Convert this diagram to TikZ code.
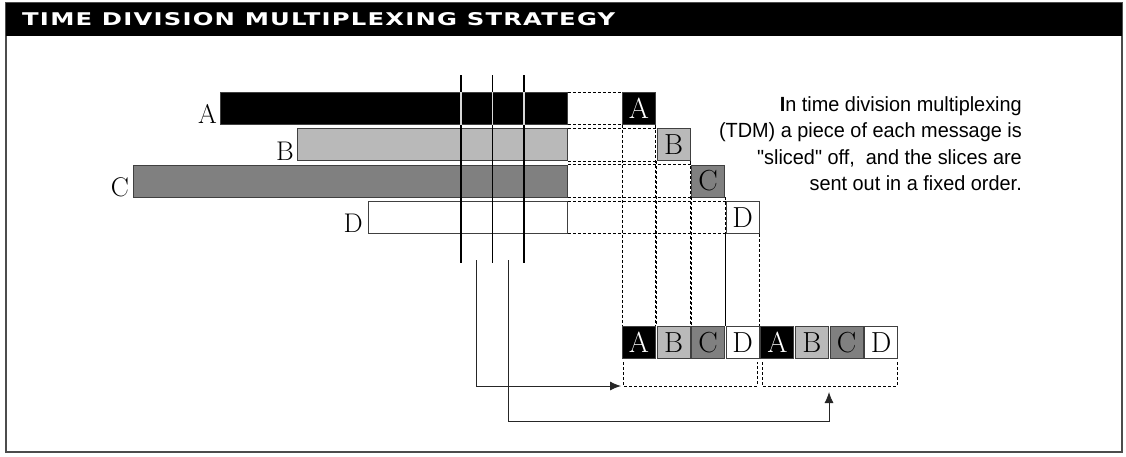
\documentclass[tikz,border=0pt]{standalone}
\usepackage{fontspec}
\usetikzlibrary{arrows.meta}
\newfontfamily\titlefont[LetterSpace=5]{DejaVu Sans}
\newfontfamily\notefont[FakeStretch=0.97]{Liberation Sans}
\definecolor{gB}{gray}{0.725}
\definecolor{gC}{gray}{0.5}
\definecolor{edge}{gray}{0.25}
\begin{document}
\begin{tikzpicture}[x=1pt,y=-1pt,
  bar/.style={draw=edge, line width=0.8pt, anchor=north west, inner sep=0pt, minimum height=32pt},
  sq/.style={draw=edge, line width=0.8pt, anchor=north west, inner sep=0pt, minimum width=33pt, minimum height=32pt, font=\fontsize{29}{29}\selectfont},
  lab/.style={anchor=base east, inner sep=0pt, font=\fontsize{27}{27}\selectfont},
  dsh/.style={dash pattern=on 3pt off 2pt, line width=0.8pt},
  vline/.style={line width=1.1pt},
  conn/.style={line width=0.9pt, draw=black!85, -{Latex[length=11pt,width=9pt]}},
  note/.style={anchor=base east, inner sep=0pt, font=\notefont\fontsize{20.5}{20.5}\selectfont}
]
\useasboundingbox (0,0) rectangle (1126,456);
% frame and title bar
\draw[line width=1.5pt, draw=black!70] (6,3) rectangle (1122,452);
\fill[black] (6,3) rectangle (1122,36);
\node[anchor=west, inner sep=0pt, text=white] (title) at (22,19.5)
  {\resizebox{593pt}{13pt}{\titlefont\bfseries TIME DIVISION MULTIPLEXING STRATEGY}};

% message bars
\node[bar, fill=black, minimum width=347pt] (barA) at (220,92) {};
\node[bar, fill=gB, minimum width=270pt] (barB) at (297,128.3) {};
\node[bar, fill=gC, minimum width=434pt] (barC) at (133,164.6) {};
\node[bar, fill=white, minimum width=199pt] (barD) at (368,200.9) {};

\node[lab] (labA) at ([xshift=-3pt,yshift=1pt]barA.south west) {A};
\node[lab] (labB) at ([xshift=-3pt,yshift=1pt]barB.south west) {B};
\node[lab] (labC) at ([xshift=-4pt,yshift=1pt]barC.south west) {C};
\node[lab] (labD) at ([xshift=-5pt,yshift=1pt]barD.south west) {D};

% slicing lines
\coordinate (v1t) at (461,75); \coordinate (v1b) at (461,263);
\coordinate (v2t) at (492.5,75); \coordinate (v2b) at (492.5,263);
\coordinate (v3t) at (524,75); \coordinate (v3b) at (524,263);
\draw[vline] (v1t) -- (v1b);
\draw[vline] (v2t) -- (v2b);
\draw[vline] (v3t) -- (v3b);
\draw[vline, white!85!black] (v1t |- barA.north) -- (v1t |- barA.south);
\draw[vline, white!85!black] (v2t |- barA.north) -- (v2t |- barA.south);
\draw[vline, white!85!black] (v3t |- barA.north) -- (v3t |- barA.south);

% slices in the diagonal
\node[sq, fill=black, text=white] (dA) at (622,92) {A};
\node[sq, fill=gB] (dB) at (656.6,128.3) {B};
\node[sq, fill=gC] (dC) at (691.2,164.6) {C};
\node[sq, fill=white] (dD) at (725.8,200.9) {D};

% output row
\node[sq, fill=black, text=white] (r1) at (622,326) {A};
\node[sq, fill=gB] (r2) at (656.6,326) {B};
\node[sq, fill=gC] (r3) at (691.2,326) {C};
\node[sq, fill=white] (r4) at (725.8,326) {D};
\node[sq, fill=black, text=white] (r5) at (760.4,326) {A};
\node[sq, fill=gB] (r6) at (795,326) {B};
\node[sq, fill=gC] (r7) at (829.6,326) {C};
\node[sq, fill=white] (r8) at (864.2,326) {D};

% dashed guides
\draw[dsh] (barA.north east) -- (dA.north west);
\draw[dsh] (barA.south east) -- (dA.south west);
\draw[dsh] (barB.north east) -- (dB.north west);
\draw[dsh] (barB.south east) -- (dB.south west);
\draw[dsh] (barC.north east) -- (dC.north west);
\draw[dsh] (barC.south east) -- (dC.south west);
\draw[dsh] (barD.north east) -- (dD.north west);
\draw[dsh] (barD.south east) -- (dD.south west);
\draw[dsh] (dA.south west) -- (r1.north west);
\draw[dsh] (dA.south east) -- (r1.north east);
\draw[dsh] (dB.south west) -- (r2.north west);
\draw[dsh] (dB.south east) -- (r2.north east);
\draw[dsh] (dC.south west) -- (r3.north west);
\draw[dsh] (dC.south east) -- (r3.north east);
\draw[dsh] (dD.south west) -- (r4.north west);
\draw[dsh] (dD.south east) -- (r4.north east);

% frame brackets
\coordinate (k1a) at (623,362); \coordinate (k1b) at (623,386);
\coordinate (k1c) at (757,386); \coordinate (k1d) at (757,362);
\coordinate (k2a) at (762,362); \coordinate (k2b) at (762,386);
\coordinate (k2c) at (897,386); \coordinate (k2d) at (897,362);
\coordinate (k2m) at (829,386);
\draw[dsh] (k1a) -- (k1b) -- (k1c) -- (k1d);
\draw[dsh] (k2a) -- (k2b) -- (k2c) -- (k2d);

% connectors
\coordinate (l1t) at (476,260);
\coordinate (l2t) at (508,260);
\draw[conn] (l1t) |- ([xshift=-2pt]k1b);
\draw[conn] (l2t) |- ([yshift=-35pt]k2m) -- ([yshift=-6pt]k2m);

% explanation
\node[note] (n1) at (1022,111) {{\bfseries I}n time division multiplexing};
\node[note] (n2) at (1022,137.5) {(TDM) a piece of each message is};
\node[note] (n3) at (1022,164) {"sliced" off,\ \ and the slices are};
\node[note] (n4) at (1022,190.5) {sent out in a fixed order.};
\end{tikzpicture}
\end{document}
